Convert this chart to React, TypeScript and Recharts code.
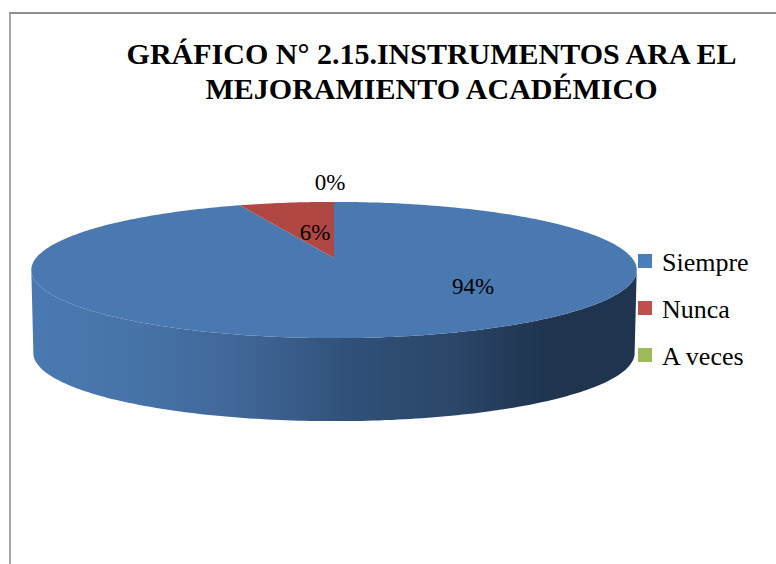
import React from "react";
import { PieChart, Pie, Legend } from "recharts";

const TITLE_LINES = ["GRÁFICO N° 2.15.INSTRUMENTOS ARA EL", "MEJORAMIENTO ACADÉMICO"];
const CATEGORIES = ["Siempre", "Nunca", "A veces"];
const VALUES = [94, 6, 0];
const SLICE_COLORS = ["#4A78B0", "#B04742", "#9BBB59"];
const LEGEND_COLORS = ["#4A7EBB", "#BE4F4C", "#9BBB59"];

const rows = CATEGORIES.map((name, i) => ({ name, value: VALUES[i], fill: SLICE_COLORS[i] }));

const FONT = "'Liberation Serif', serif";

// the disc is a circle seen in perspective: far edge is squeezed, near edge stretched
const CX = 334;
const CY = 258;
const SCALE_X = 298;
const SCALE_Y = 66;
const TILT = 0.1765;
const DEPTH = 83;

const project = (deg: number) => {
  const a = (deg * Math.PI) / 180;
  const u = Math.cos(a);
  const v = Math.sin(a);
  const w = 1 + TILT * v;
  return { x: CX + (SCALE_X * u) / w, y: CY - (SCALE_Y * v) / w, v };
};

const rimPoints = (start: number, end: number) => {
  const steps = Math.max(2, Math.ceil(Math.abs(end - start)));
  const pts = [];
  for (let i = 0; i <= steps; i++) pts.push(project(start + ((end - start) * i) / steps));
  return pts;
};

const toPath = (pts: { x: number; y: number }[]) =>
  pts.map((p, i) => `${i ? "L" : "M"}${p.x.toFixed(1)} ${p.y.toFixed(1)}`).join(" ");

const Slice3D = (props: any) => {
  const { startAngle, endAngle, fill, index } = props;
  if (startAngle === endAngle) return null;
  const rim = rimPoints(startAngle, endAngle);
  const front = rim.filter((p) => p.v <= -TILT);
  const bottom = front
    .map((p) => ({ x: CX + (p.x - CX) * 0.993, y: p.y + DEPTH }))
    .reverse();
  return (
    <g>
      {front.length > 1 && <path d={`${toPath([...front, ...bottom])} Z`} fill={`url(#wall-${index})`} />}
      <path d={`M${CX} ${CY} ${toPath(rim).replace("M", "L")} Z`} fill={fill} />
    </g>
  );
};

// excel does not place these on the radius, so they are set by hand per slice
const LABEL_AT = [
  { x: 473, y: 294 },
  { x: 315, y: 240 },
  { x: 330, y: 190 },
];

const sliceLabel = (props: any) => {
  const at = LABEL_AT[props.index];
  return (
    <text x={at.x} y={at.y} textAnchor="middle" fontFamily={FONT} fontSize={23} fill="#000">
      {`${props.value}%`}
    </text>
  );
};

const legendContent = () => (
  <div style={{ position: "relative", width: 140, height: 150, fontFamily: FONT, fontSize: 26, color: "#000" }}>
    {CATEGORIES.map((name, i) => (
      <div key={name} style={{ position: "absolute", top: i * 47, left: 0, height: 30, whiteSpace: "nowrap" }}>
        <span
          style={{
            position: "absolute",
            left: 0,
            top: 6,
            width: 14,
            height: 14,
            background: LEGEND_COLORS[i],
          }}
        />
        <span style={{ position: "absolute", left: 24, top: 0, lineHeight: "30px" }}>{name}</span>
      </div>
    ))}
  </div>
);

export default function App() {
  return (
    <div style={{ position: "absolute", left: 0, top: 0, width: 776, height: 564, overflow: "hidden", background: "#fff" }}>
      <div
        style={{
          position: "absolute",
          left: 9,
          top: 12,
          width: 780,
          height: 570,
          borderTop: "2px solid #8E8E8E",
          borderLeft: "2px solid #A6A6A6",
        }}
      />
      <PieChart width={776} height={564} style={{ position: "absolute", left: 0, top: 0 }}>
        <defs>
          {CATEGORIES.map((name, i) => (
            <linearGradient key={name} id={`wall-${i}`} gradientUnits="userSpaceOnUse" x1={31} x2={637} y1={0} y2={0}>
              <stop offset="0%" stopColor="#4A79B2" />
              <stop offset="18%" stopColor="#4673A8" />
              <stop offset="36%" stopColor="#3F6595" />
              <stop offset="52%" stopColor="#31517A" />
              <stop offset="70%" stopColor="#2A4668" />
              <stop offset="85%" stopColor="#1F344E" />
              <stop offset="100%" stopColor="#1F344E" />
            </linearGradient>
          ))}
        </defs>
        <text textAnchor="middle" fontFamily={FONT} fontSize={30} fontWeight="bold" fill="#000">
          <tspan x={431.5} y={64}>{TITLE_LINES[0]}</tspan>
          <tspan x={431.5} y={99}>{TITLE_LINES[1]}</tspan>
        </text>
        <Pie
          data={rows}
          dataKey="value"
          nameKey="name"
          cx={CX}
          cy={CY}
          outerRadius={60}
          startAngle={90}
          endAngle={-270}
          stroke="none"
          shape={Slice3D}
          label={sliceLabel}
          labelLine={false}
          isAnimationActive={false}
        />
        <Legend
          layout="vertical"
          content={legendContent}
          wrapperStyle={{ position: "absolute", left: 638, top: 248, width: 140 }}
        />
      </PieChart>
    </div>
  );
}
